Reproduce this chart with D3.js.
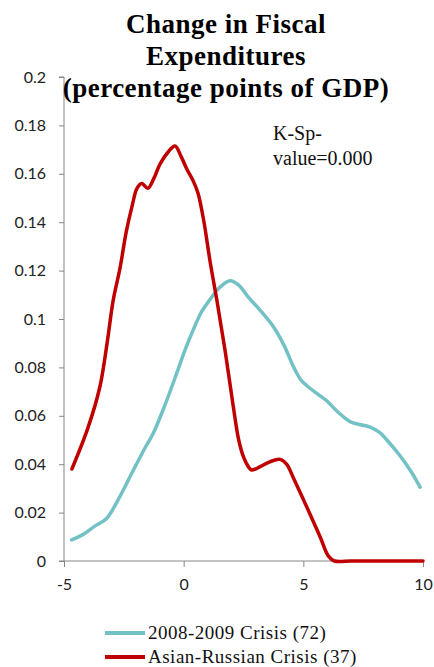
<!DOCTYPE html>
<html><head><meta charset="utf-8">
<script src="https://cdn.jsdelivr.net/npm/d3@7"></script>
<style>body{margin:0;background:#fff}svg{display:block}</style>
</head><body>
<svg id="c" width="434" height="667"></svg>
<script>
const titleLines = ["Change in Fiscal", "Expenditures", "(percentage points of GDP)"];
const seriesNames = ["2008-2009 Crisis (72)", "Asian-Russian Crisis (37)"];
const seriesColors = ["#72C2C5", "#C00000"];
const xTicks = [-5, 0, 5, 10];
const yTicks = [0, 0.02, 0.04, 0.06, 0.08, 0.1, 0.12, 0.14, 0.16, 0.18, 0.2];
const annotation = ["K-Sp-", "value=0.000"];

const crisis0809X = [-4.68,-4.2,-3.7,-3.22,-2.7,-2.1,-1.6,-1.27,-0.8,-0.29,0.05,0.4,0.75,1.1,1.5,1.94,2.3,2.7,3.19,3.75,4.2,4.6,4.9,5.2,5.6,6.0,6.4,6.95,7.4,7.79,8.2,8.49,9.0,9.5,9.88];
const crisis0809Y = [0.0087,0.011,0.0145,0.0176,0.026,0.0376,0.047,0.0528,0.064,0.0776,0.087,0.0955,0.103,0.108,0.113,0.1158,0.114,0.109,0.1037,0.0968,0.089,0.080,0.0748,0.0720,0.069,0.066,0.062,0.0576,0.0563,0.0553,0.053,0.05,0.044,0.037,0.0305];

const asianX = [-4.67,-4.0,-3.5,-3.2,-2.94,-2.66,-2.4,-2.17,-1.95,-1.75,-1.5,-1.25,-0.99,-0.65,-0.36,-0.1,0.13,0.4,0.6,0.85,1.1,1.4,1.73,2.07,2.3,2.5,2.7,2.84,3.2,3.6,4.03,4.3,4.6,5.14,5.7,6.05,6.3,7,8,9,10];
const asianY = [0.038,0.055,0.072,0.09,0.108,0.121,0.136,0.146,0.154,0.156,0.154,0.158,0.164,0.169,0.1715,0.167,0.162,0.157,0.152,0.14,0.124,0.107,0.087,0.064,0.05,0.043,0.039,0.0376,0.039,0.041,0.042,0.04,0.034,0.0224,0.01,0.002,0,0,0,0,0];

const svg = d3.select("#c");
const x = d3.scaleLinear().domain([-5, 10]).range([64, 423]);
const y = d3.scaleLinear().domain([0, 0.2]).range([561, 77]);
const axisColor = "#868686";
const tickFont = "Lato, 'Open Sans', sans-serif";
const serif = "'Liberation Serif', 'DejaVu Serif', serif";

// y axis
const ya = svg.append("g").attr("transform", "translate(64,0)")
  .call(d3.axisLeft(y).tickValues(yTicks).tickSize(5).tickPadding(13).tickFormat(d => String(+d.toFixed(2))));
ya.select(".domain").attr("stroke", axisColor).attr("d", "M-5,77H0V561H-5");
ya.selectAll(".tick line").attr("stroke", axisColor);
ya.selectAll(".tick text").attr("fill", "#222").attr("font-family", tickFont).attr("font-size", 16);

// x axis
const xa = svg.append("g").attr("transform", "translate(0,561)")
  .call(d3.axisBottom(x).tickValues(xTicks).tickSize(6).tickPadding(12).tickFormat(d => String(d)));
xa.select(".domain").attr("stroke", axisColor).attr("d", "M64,0H423");
xa.selectAll(".tick line").attr("stroke", axisColor);
xa.selectAll(".tick text").attr("fill", "#222").attr("font-family", tickFont).attr("font-size", 16);

const line = d3.line().x(d => x(d[0])).y(d => y(d[1])).curve(d3.curveCatmullRom.alpha(0.5));
const data = [
  crisis0809X.map((v, i) => [v, crisis0809Y[i]]),
  asianX.map((v, i) => [v, asianY[i]])
];
data.forEach((d, i) => {
  svg.append("path").datum(d).attr("d", line).attr("fill", "none")
    .attr("stroke", seriesColors[i]).attr("stroke-width", 3.5)
    .attr("stroke-linejoin", "round").attr("stroke-linecap", "round");
});

// title
svg.append("g").selectAll("text").data(titleLines).join("text")
  .attr("x", 226).attr("y", (d, i) => 33 + i * 32)
  .attr("text-anchor", "middle").attr("font-family", serif)
  .attr("font-weight", "bold").attr("font-size", 27).attr("letter-spacing", 0.5).attr("fill", "#000")
  .text(d => d);

// annotation
svg.append("g").selectAll("text").data(annotation).join("text")
  .attr("x", 273).attr("y", (d, i) => 140 + i * 25)
  .attr("font-family", serif).attr("font-size", 20).attr("fill", "#111")
  .text(d => d);

// legend
const lg = svg.append("g");
seriesNames.forEach((n, i) => {
  const yy = 633 + i * 24;
  lg.append("line").attr("x1", 105).attr("x2", 145).attr("y1", yy).attr("y2", yy)
    .attr("stroke", seriesColors[i]).attr("stroke-width", 4);
  lg.append("text").attr("x", 148).attr("y", yy + 6).attr("font-family", serif)
    .attr("font-size", 19).attr("letter-spacing", 0.5).attr("fill", "#111").text(n);
});
</script>
</body></html>
